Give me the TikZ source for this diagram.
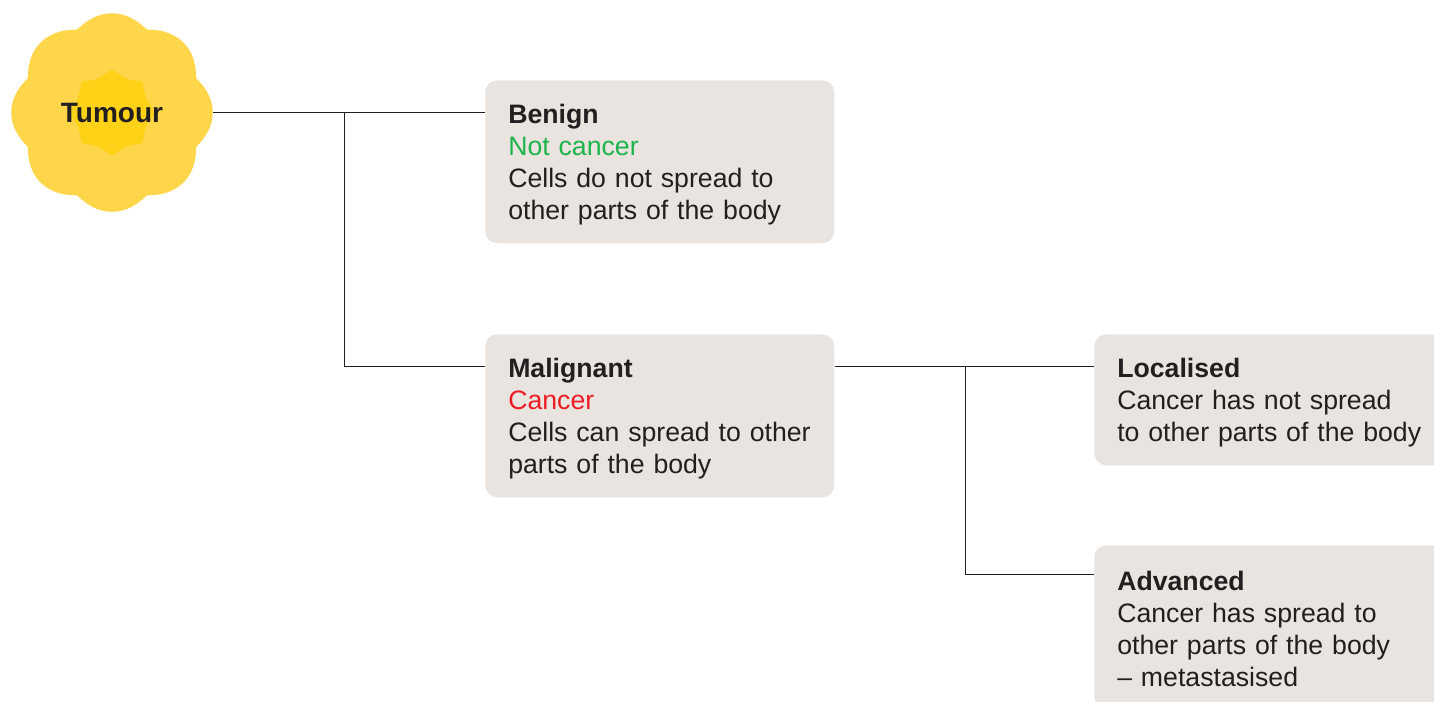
\documentclass[tikz,border=0pt]{standalone}
\usepackage{fontspec}
\setmainfont{Liberation Sans}
\usepackage{xcolor}
\usetikzlibrary{positioning,calc}
\definecolor{boxgrey}{HTML}{E9E4E0}
\definecolor{inkdark}{HTML}{231F20}
\definecolor{lobeyellow}{HTML}{FFD54A}
\definecolor{coreyellow}{HTML}{FFD217}
\definecolor{benigngreen}{HTML}{1DB44B}
\definecolor{cancerred}{HTML}{ED1C24}
\newcommand{\boxhead}[1]{\rule{0pt}{18.3pt}\textbf{#1}}
\tikzset{
  infobox/.style={fill=boxgrey, rounded corners=9pt, anchor=north west, align=left,
    text=inkdark, font=\fontsize{20}{24}\selectfont, inner xsep=17.25pt, inner ysep=0pt,
    text width=227.25pt, minimum width=261.75pt, minimum height=#1},
  link/.style={draw=inkdark, line width=0.75pt}
}
\begin{document}
\begin{tikzpicture}[x=0.75pt,y=-0.75pt]
  \useasboundingbox (0,0) rectangle (1434,701);
  \clip (0,0) rectangle (1434,701);
  % flower behind the label
  \fill[lobeyellow] plot[domain=0:360,samples=361]
    ({112+(91+9.7*abs(cos(4*\x)))*cos(\x)},{112.5+0.985*(91+9.7*abs(cos(4*\x)))*sin(\x)}) -- cycle;
  \fill[coreyellow] plot[domain=0:360,samples=361]
    ({112+(43-6*abs(sin(4*\x)))*cos(\x)},{112.5+(43-6*abs(sin(4*\x)))*sin(\x)}) -- cycle;
  \node[circle, minimum size=151.5pt, inner sep=0pt, text=inkdark,
    font=\fontsize{21}{24}\selectfont\bfseries] (tumour) at (112,112.5) {Tumour};

  \node[infobox=122.25pt] (benign) at (485,80)
    {\boxhead{Benign}\\\textcolor{benigngreen}{Not cancer}\\Cells do not spread to\\other parts of the body};
  \node[infobox=122.25pt] (malignant) at (485,334)
    {\boxhead{Malignant}\\\textcolor{cancerred}{Cancer}\\Cells can spread to other\\parts of the body};
  \node[infobox=98.25pt, text width=235pt] (localised) at (1094,334)
    {\boxhead{Localised}\\Cancer has not spread\\to other parts of the body};
  \node[infobox=122.25pt, text width=235pt] (advanced) at (1094,545)
    {\boxhead{Advanced}\\Cancer has spread to\\other parts of the body\\– metastasised};

  \coordinate (splitA) at (344.5,112.5);
  \coordinate (splitB) at (965.5,366.5);
  \draw[link] (tumour.east) -- (benign.west |- tumour.east);
  \draw[link] (splitA) |- (malignant.west |- splitB);
  \draw[link] (malignant.east |- splitB) -- (localised.west |- splitB);
  \draw[link] (splitB) |- ($(advanced.west)+(0,-52)$);
\end{tikzpicture}
\end{document}
